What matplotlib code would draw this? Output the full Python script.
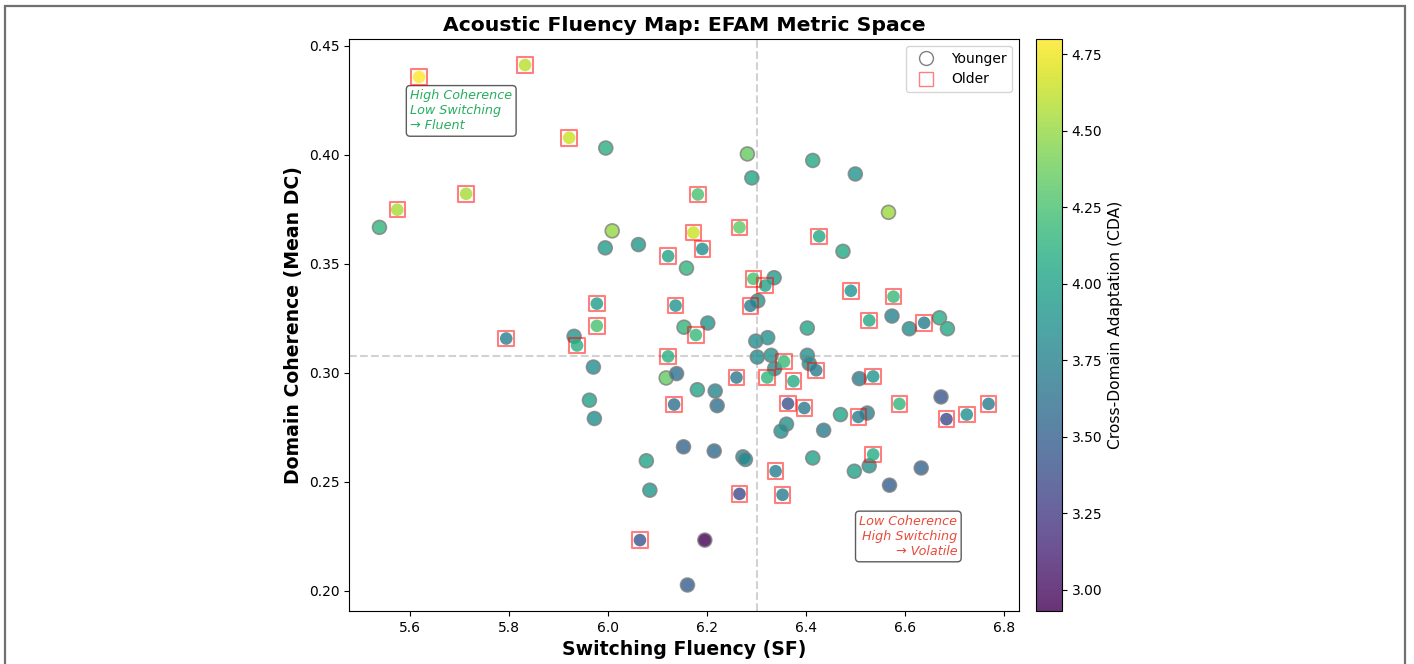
import matplotlib
matplotlib.use("Agg")
import matplotlib.pyplot as plt
from matplotlib.lines import Line2D
from matplotlib.patches import Rectangle
import numpy as np

# ---------------- data ----------------
young_sf = [5.538, 5.995, 6.008, 5.994, 6.061, 6.158, 6.153, 6.281, 6.290, 6.413,
            6.499, 6.566, 6.474, 6.335, 6.302, 6.201, 6.573, 6.669, 6.608, 6.685,
            6.402, 5.931, 5.970, 5.962, 5.972, 6.117, 6.138, 6.152, 6.077, 6.084,
            6.160, 6.298, 6.322, 6.301, 6.329, 6.336, 6.402, 6.406, 6.180, 6.216,
            6.220, 6.214, 6.272, 6.277, 6.195, 6.360, 6.349, 6.435, 6.469, 6.523,
            6.507, 6.672, 6.413, 6.497, 6.527, 6.568, 6.632]
young_dc = [0.3667, 0.4031, 0.3651, 0.3573, 0.3588, 0.3480, 0.3209, 0.4004, 0.3894, 0.3974,
            0.3912, 0.3736, 0.3557, 0.3436, 0.3330, 0.3228, 0.3260, 0.3252, 0.3202, 0.3202,
            0.3205, 0.3167, 0.3026, 0.2874, 0.2790, 0.2976, 0.2996, 0.2660, 0.2596, 0.2461,
            0.2026, 0.3145, 0.3161, 0.3072, 0.3080, 0.3019, 0.3080, 0.3042, 0.2922, 0.2916,
            0.2849, 0.2641, 0.2614, 0.2602, 0.2232, 0.2764, 0.2732, 0.2736, 0.2808, 0.2815,
            0.2973, 0.2889, 0.2609, 0.2548, 0.2573, 0.2484, 0.2563]
young_cda = [4.15, 4.10, 4.50, 3.95, 3.92, 4.15, 4.15, 4.35, 4.02, 4.05,
             3.90, 4.52, 4.05, 3.95, 3.92, 3.90, 3.75, 4.08, 3.85, 4.05,
             4.02, 3.90, 3.85, 4.00, 3.85, 4.35, 3.60, 3.52, 4.02, 3.92,
             3.48, 3.85, 3.88, 3.85, 3.88, 3.85, 3.87, 3.85, 4.02, 3.78,
             3.60, 3.58, 3.85, 3.80, 2.93, 3.88, 3.85, 3.70, 4.02, 3.75,
             3.70, 3.42, 4.00, 4.00, 3.88, 3.48, 3.52]

older_sf = [5.618, 5.832, 5.921, 5.713, 5.574, 5.794, 5.937, 5.977, 5.977, 6.064,
            6.121, 6.136, 6.121, 6.133, 6.181, 6.172, 6.190, 6.265, 6.293, 6.287,
            6.317, 6.426, 6.490, 6.576, 6.527, 6.638, 6.177, 6.259, 6.321, 6.355,
            6.374, 6.420, 6.363, 6.396, 6.505, 6.535, 6.588, 6.683, 6.724, 6.768,
            6.535, 6.338, 6.265, 6.352]
older_dc = [0.4357, 0.4412, 0.4078, 0.3821, 0.3748, 0.3157, 0.3125, 0.3317, 0.3215, 0.2232,
            0.3535, 0.3308, 0.3075, 0.2854, 0.3818, 0.3643, 0.3568, 0.3667, 0.3431, 0.3307,
            0.3400, 0.3626, 0.3376, 0.3349, 0.3240, 0.3229, 0.3173, 0.2978, 0.2978, 0.3051,
            0.2961, 0.3011, 0.2858, 0.2838, 0.2797, 0.2983, 0.2857, 0.2787, 0.2808, 0.2857,
            0.2625, 0.2548, 0.2444, 0.2440]
older_cda = [4.80, 4.60, 4.65, 4.55, 4.55, 3.72, 4.10, 3.95, 4.25, 3.42,
             4.00, 3.90, 4.10, 3.60, 4.25, 4.65, 3.85, 4.32, 4.25, 3.70,
             4.00, 4.05, 3.90, 4.18, 4.05, 3.70, 4.18, 3.68, 4.15, 4.20,
             4.08, 3.70, 3.40, 3.68, 3.70, 3.90, 4.15, 3.33, 3.85, 3.70,
             4.08, 3.72, 3.35, 3.70]

sf_median = 6.30
dc_median = 0.3075

# ---------------- figure ----------------
plt.rcParams['font.family'] = ['DejaVu Sans']
fig = plt.figure(figsize=(14.14, 6.64), dpi=100)
ax = fig.add_axes([349/1414, 53/664, 670/1414, 572/664])
cax = fig.add_axes([1036/1414, 53/664, 26/1414, 572/664])

# figure frame (bottom edge lies outside the visible area)
fig.patches.append(Rectangle((5/1414, -0.2), 1400/1414, 1.2 - 6/664,
                             transform=fig.transFigure, fill=False,
                             edgecolor='#707070', linewidth=1.6, zorder=0))

all_cda = young_cda + older_cda
vmin, vmax = min(all_cda), max(all_cda)

sc = ax.scatter(young_sf, young_dc, c=young_cda, cmap='viridis', vmin=vmin, vmax=vmax,
                s=100, alpha=0.8, edgecolors='gray', linewidths=1.2, marker='o', zorder=3)
ax.scatter(older_sf, older_dc, c=older_cda, cmap='viridis', vmin=vmin, vmax=vmax,
           s=82, alpha=0.8, edgecolors='none', marker='o', zorder=3)
ax.scatter(older_sf, older_dc, s=125, facecolors='none', edgecolors='red',
           linewidths=1.5, alpha=0.5, marker='s', zorder=4)

ax.axvline(sf_median, color='gray', linestyle='--', alpha=0.35, linewidth=1.5, zorder=1)
ax.axhline(dc_median, color='gray', linestyle='--', alpha=0.35, linewidth=1.5, zorder=1)

ax.text(5.6, 0.43, 'High Coherence\nLow Switching\n→ Fluent', fontsize=9.2, style='italic',
        color='#27ae60', ha='left', va='top',
        bbox=dict(boxstyle='round,pad=0.3', facecolor='white', edgecolor='#333333', alpha=0.8))
ax.text(6.705, 0.215, 'Low Coherence\nHigh Switching\n→ Volatile', fontsize=9.2, style='italic',
        color='#e74c3c', ha='right', va='bottom', multialignment='right',
        bbox=dict(boxstyle='round,pad=0.3', facecolor='white', edgecolor='#333333', alpha=0.8))

ax.set_xticks([5.6, 5.8, 6.0, 6.2, 6.4, 6.6, 6.8])
ax.set_yticks([0.20, 0.25, 0.30, 0.35, 0.40, 0.45])
ax.tick_params(labelsize=10)
ax.set_xlabel('Switching Fluency (SF)', fontsize=13.6, fontweight='bold')
ax.set_ylabel('Domain Coherence (Mean DC)', fontsize=13.6, fontweight='bold')
ax.set_title('Acoustic Fluency Map: EFAM Metric Space', fontsize=14.7, fontweight='bold')

handles = [Line2D([0], [0], marker='o', linestyle='none', markerfacecolor='none',
                  markeredgecolor='gray', markersize=10, label='Younger'),
           Line2D([0], [0], marker='s', linestyle='none', markerfacecolor='none',
                  markeredgecolor='red', alpha=0.5, markersize=10, label='Older')]
ax.legend(handles=handles, loc='upper right', fontsize=10)

cb = fig.colorbar(sc, cax=cax)
cb.set_label('Cross-Domain Adaptation (CDA)', fontsize=11.2)
cb.ax.tick_params(labelsize=10)

fig.savefig('out.png', dpi=100)
